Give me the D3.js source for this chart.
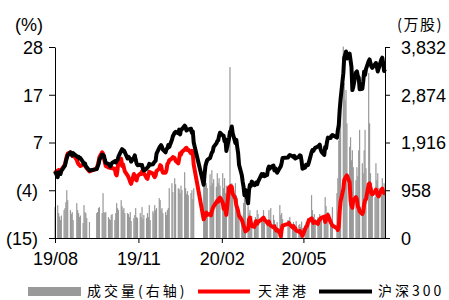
<!DOCTYPE html>
<html>
<head>
<meta charset="utf-8">
<script src="https://d3js.org/d3.v7.min.js"></script>
<style>
  body { margin: 0; background: #fff; }
  svg text { font-family: "Liberation Sans", Arial, sans-serif; fill: #000; }
  .cjk { font-family: "Noto Sans CJK SC", sans-serif; }
</style>
</head>
<body>
<svg id="chart" width="449" height="300"></svg>
<script>
// trading calendar (SSE), one value per trading day below
var startDate = "2019-08-23", endDate = "2020-08-21";
var holidays = ["2019-09-13", "2019-10-01", "2019-10-02", "2019-10-03", "2019-10-04", "2019-10-07",
  "2020-01-01", "2020-01-24", "2020-01-27", "2020-01-28", "2020-01-29", "2020-01-30", "2020-01-31",
  "2020-04-06", "2020-05-01", "2020-05-04", "2020-05-05", "2020-06-25", "2020-06-26"];

// cumulative change, %  (one row per week)
var hs300 = [0,
  -1.3, -0.2, -0.5, -0.6, 0.1,
  1.0, 1.3, 2.2, 3.0, 3.6,
  4.3, 4.0, 3.6, 4.1,
  3.4, 3.2, 3.3, 2.9, 3.0,
  2.1, 1.6, 1.8, 1.2, 0.9,
  0.2,
  0.5, 1.1, 1.6, 2.6,
  3.8, 3.4, 3.5, 2.6, 1.9,
  1.7, 1.5, 1.1, 1.6, 1.9,
  2.3, 2.0, 2.4, 2.6, 3.3,
  4.6, 5.0, 4.6, 4.7, 4.3,
  2.9, 3.3, 3.0, 2.8, 2.2,
  3.1, 3.6, 2.6, 1.8, 1.4,
  1.5, 1.3, 1.4, 0.6, 0.2,
  0.6, 0.9, 1.1, 1.7, 1.5,
  1.6, 1.9, 2.2, 2.4, 4.0,
  5.3, 5.6, 5.9, 5.5, 4.9,
  4.3, 5.0, 5.2, 5.9, 5.5,
  7.1, 7.9, 8.7, 8.9,
  8.6, 9.4, 8.3, 9.4, 9.5,
  10.3, 10.0, 9.2, 9.4, 9.4,
  9.6, 8.7, 9.0, 6.5,
  -3.0, -0.6, 1.3, 2.0, 2.6,
  3.0, 3.6, 4.2, 4.5, 5.5,
  6.3, 6.8, 7.0, 8.0, 8.7,
  8.1, 8.0, 6.8, 7.2, 4.6,
  7.5, 8.9, 9.3, 10.1, 8.6,
  6.4, 7.1, 5.5, 4.1, 1.5,
  -0.8, -2.3, -3.5, -5.4, -4.2,
  -7.2, -4.3, -3.0, -3.3, -2.3,
  -3.1, -3.0, -2.5, -2.9, -2.3,
  -0.6, -1.0, -0.6, -1.1,
  -0.8, 0.6, 1.1, 0.6, 1.0,
  1.3, 0.2, 0.7, 0.4, -0.3,
  0.8, 1.1, 1.9, 3.0,
  3.1, 3.5, 3.7,
  3.4, 3.2, 3.5, 2.9, 3.0,
  3.3, 3.6, 3.5, 2.3, 0.6,
  0.9, 1.5, 1.4, 1.4, 2.0,
  4.3, 4.8, 4.6, 5.0, 5.3,
  5.6, 5.8, 6.0, 4.9, 4.4,
  3.7, 5.5, 5.2, 6.6, 7.6,
  7.5, 8.0, 8.2,
  7.6, 9.3, 10.4, 13.8, 16.2,
  22.0, 25.6, 26.2, 27.0, 25.4,
  26.5, 25.0, 23.5, 18.3, 19.0,
  22.3, 22.5, 21.5, 21.1, 18.5,
  18.6, 20.3, 22.5, 21.7, 23.0,
  24.8, 25.2, 24.4, 23.6, 23.3,
  24.1, 24.4, 23.5, 22.5, 23.2,
  25.2, 25.6, 24.3, 22.6, 23.0];

var tjPort = [0.3,
  -0.5, 0.3, 0.0, -0.2, 0.4,
  1.2, 1.6, 2.5, 3.4, 4.0,
  4.3, 4.0, 3.5, 3.8,
  2.6, 2.0, 1.6, 1.4, 1.2,
  1.5, 1.6, 1.3, 1.0, 0.7,
  0.0,
  0.6, 1.3, 2.1, 3.2,
  4.3, 4.0, 3.0, 2.0, 1.2,
  0.9, 1.1, 0.8, 1.0, 0.7,
  0.6, -0.6, -0.9, 0.4, 2.4,
  2.8, 1.2, 1.6, 0.8, 0.0,
  -0.9, -1.3, -1.8, -2.4, -2.8,
  -0.6, -1.0, -1.8, -2.0, -1.1,
  -0.5, -0.6, 0.0, 0.3, -0.4,
  -1.5, -1.7, -0.8, -0.1, -0.2,
  -0.5, -1.0, -1.3, -0.9, 0.1,
  0.6, 1.4, 1.2, 0.3, -0.3,
  -0.3, 0.3, 1.7, 1.9, 2.5,
  2.9, 3.2, 3.0, 2.4,
  1.8, 2.9, 4.1, 3.8, 4.4,
  4.9, 5.2, 5.3, 4.8, 4.9,
  4.1, 4.6, 4.0, 1.5,
  -10.8, -10.4, -9.6, -9.3, -9.8,
  -9.6, -9.9, -9.0, -8.3, -7.9,
  -7.0, -6.6, -6.8, -6.1, -5.9,
  -7.0, -8.4, -7.6, -8.8, -9.8,
  -3.6, -3.9, -3.3, -3.5, -5.0,
  -6.2, -7.6, -8.2, -9.0, -10.0,
  -10.9, -11.5, -12.2, -12.8, -13.5,
  -13.0, -10.8, -10.4, -11.6, -12.3,
  -12.5, -11.6, -11.2, -11.8, -11.4,
  -10.8, -10.6, -10.4, -10.9,
  -11.5, -11.8, -11.3, -12.0, -12.2,
  -12.6, -12.4, -12.9, -13.3, -13.1,
  -13.9, -14.6, -13.1, -12.2,
  -11.8, -11.6, -12.0,
  -12.6, -12.3, -12.9, -12.8, -13.3,
  -13.6, -13.4, -13.8, -14.2, -14.5,
  -12.9, -12.5, -12.3, -11.6, -11.0,
  -10.6, -11.2, -11.6, -11.3, -11.4,
  -11.8, -11.1, -10.9, -10.6, -10.4,
  -10.2, -11.4, -10.9, -10.0, -9.8,
  -11.4, -11.8, -12.2,
  -12.8, -13.2, -12.4, -9.0, -6.8,
  -4.0, -2.0, -1.5, -1.2, -0.9,
  -2.5, -6.5, -7.7, -8.2, -6.5,
  -5.8, -6.3, -7.9, -8.2, -9.0,
  -9.6, -9.1, -7.4, -6.5, -6.3,
  -2.9, -2.7, -3.7, -4.9, -5.2,
  -4.5, -4.1, -4.8, -5.4, -5.6,
  -4.1, -3.9, -4.5, -4.9, -4.9];

// 成交量, 万股
var volume = [620,
  660, 500, 430, 360, 450,
  560, 600, 720, 960, 760,
  560, 480, 520, 360,
  700, 560, 500, 420, 450,
  300, 660, 520, 500, 400,
  320,
  500, 520, 600, 620,
  500, 900, 520, 500, 520,
  420, 380, 360, 460, 480,
  360, 500, 700, 600, 560,
  760, 640, 560, 600, 500,
  500, 480, 420, 520, 340,
  400, 460, 600, 420, 400,
  500, 420, 620, 380, 460,
  400, 500, 420, 660, 360,
  540, 500, 660, 560, 600,
  800, 760, 560, 600, 500,
  520, 460, 560, 600, 1000,
  1100, 920, 1200, 1080,
  1000, 980, 900, 1050, 960,
  1320, 1000, 880, 940, 860,
  900, 960, 780, 1000,
  1220, 1300, 1180, 1100, 1000,
  1280, 1050, 1360, 1100, 1180,
  1030, 1300, 1100, 1200, 1050,
  1300, 1000, 1200, 900, 1050,
  950, 3430, 900, 1100, 950,
  1100, 860, 800, 620, 500,
  450, 400, 700, 900, 760,
  640, 500, 560, 400, 440,
  360, 420, 300, 560, 480,
  400, 340, 560, 300,
  280, 260, 560, 320, 600,
  460, 360, 280, 200, 320,
  660, 460, 500, 380,
  360, 300, 420,
  260, 320, 180, 250, 340,
  260, 280, 220, 330, 200,
  260, 310, 220, 400, 280,
  860, 560, 420, 480, 380,
  420, 360, 480, 400, 440,
  380, 820, 640, 400, 520,
  360, 320, 620,
  900, 1200, 1960, 2230, 2600,
  3840, 3110, 2770, 2970, 2300,
  1830, 2020, 1560, 1760, 1420,
  1160, 1420, 1240, 1760, 2170,
  1500, 1300, 1760, 2170, 1400,
  3310, 2300, 1300, 1100, 1000,
  820, 1500, 1160, 1300, 1000,
  960, 1200, 900, 1100, 880];

var leftTicks = [-15, -4.25, 6.5, 17.25, 28];
var leftLabels = ["(15)", "(4)", "7", "17", "28"];
var rightTicks = [0, 958, 1916, 2874, 3832];
var xTickDates = ["2019-08-23", "2019-11-23", "2020-02-23", "2020-05-23"];
var xLabels = ["19/08", "19/11", "20/02", "20/05"];
var seriesNames = ["成交量(右轴)", "天津港", "沪深300"];

var parse = d3.timeParse("%Y-%m-%d"), fmt = d3.timeFormat("%Y-%m-%d");
var days = d3.timeDay.range(parse(startDate), d3.timeDay.offset(parse(endDate), 1))
  .filter(function(d) { return d.getDay() !== 0 && d.getDay() !== 6 && holidays.indexOf(fmt(d)) < 0; });
console.log(days.length, hs300.length, tjPort.length, volume.length);

var svg = d3.select("#chart");
var plotLeft = 55, plotRight = 385, plotTop = 47, plotBottom = 238;

var x = d3.scaleTime().domain([parse(startDate), parse(endDate)]).range([plotLeft, plotRight]);
var yL = d3.scaleLinear().domain([-15, 28]).range([plotBottom, plotTop]);
var yR = d3.scaleLinear().domain([0, 3832]).range([plotBottom, plotTop]);

// volume bars
svg.append("g").selectAll("rect")
  .data(volume)
  .enter().append("rect")
    .attr("x", function(d, i) { return x(days[i]) - 0.6; })
    .attr("width", 1.2)
    .attr("y", function(d) { return yR(d); })
    .attr("height", function(d) { return plotBottom - yR(d); })
    .attr("fill", "#999999");

// lines
var lineL = d3.line()
  .x(function(d, i) { return x(days[i]); })
  .y(function(d) { return yL(d); });

svg.append("path").datum(tjPort)
  .attr("d", lineL).attr("fill", "none")
  .attr("stroke", "#ff0000").attr("stroke-width", 4).attr("stroke-linejoin", "round");
svg.append("path").datum(hs300)
  .attr("d", lineL).attr("fill", "none")
  .attr("stroke", "#000").attr("stroke-width", 4).attr("stroke-linejoin", "round");

// axes
var gl = svg.append("g").attr("transform", "translate(" + plotLeft + ",0)")
  .call(d3.axisLeft(yL).tickValues(leftTicks).tickSizeInner(6).tickSizeOuter(0).tickPadding(6)
    .tickFormat(function(d, i) { return leftLabels[i]; }));
gl.selectAll("text").attr("dy", "0.36em")
  .attr("x", function(d, i) { return leftLabels[i].charAt(0) === "(" ? -17 : -12; });

var gr = svg.append("g").attr("transform", "translate(" + plotRight + ",0)")
  .call(d3.axisRight(yR).tickValues(rightTicks).tickSizeInner(5).tickSizeOuter(0).tickPadding(11)
    .tickFormat(d3.format(",")));
gr.selectAll("text").attr("dy", "0.36em");

svg.append("g").attr("transform", "translate(0," + plotBottom + ")")
  .call(d3.axisBottom(x).tickValues(xTickDates.map(parse)).tickSizeInner(5).tickSizeOuter(0).tickPadding(9)
    .tickFormat(function(d, i) { return xLabels[i]; }));

svg.selectAll(".tick text").attr("font-size", 18)
  .attr("font-family", "Liberation Sans, Arial, sans-serif").attr("fill", "#000");
svg.selectAll(".domain, .tick line").attr("stroke", "#000");

// axis units
svg.append("text").attr("x", 29).attr("y", 31).attr("text-anchor", "middle")
  .attr("font-size", 18).text("(%)");
svg.append("text").attr("class", "cjk").attr("x", 397).attr("y", 30)
  .attr("font-size", 15).attr("letter-spacing", 1.5).text("(万股)");

// legend
var ly = 291;
svg.append("rect").attr("x", 28).attr("y", ly - 4).attr("width", 53).attr("height", 9).attr("fill", "#999999");
svg.append("line").attr("x1", 198).attr("x2", 250).attr("y1", ly + 0.5).attr("y2", ly + 0.5)
  .attr("stroke", "#ff0000").attr("stroke-width", 4);
svg.append("line").attr("x1", 319).attr("x2", 372).attr("y1", ly + 0.5).attr("y2", ly + 0.5)
  .attr("stroke", "#000").attr("stroke-width", 4);
var legX = [87, 258, 378];
seriesNames.forEach(function(name, i) {
  svg.append("text").attr("class", "cjk").attr("x", legX[i]).attr("y", ly - 1)
    .attr("dominant-baseline", "central").attr("font-size", 14).attr("letter-spacing", 3)
    .text(name);
});
</script>
</body>
</html>
